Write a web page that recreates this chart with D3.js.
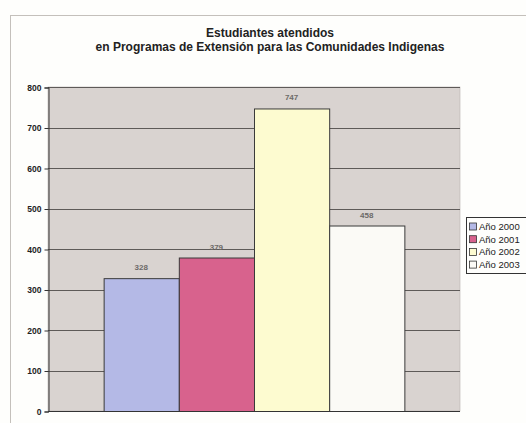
<!DOCTYPE html>
<html><head><meta charset="utf-8">
<script src="https://cdn.jsdelivr.net/npm/d3@7"></script>
<style>body{margin:0;background:#fefefc;}svg{display:block;font-family:Arial,"Liberation Sans",sans-serif;}</style>
</head><body>
<svg id="c" width="526" height="423"></svg>
<script>
const categories = ["Año 2000", "Año 2001", "Año 2002", "Año 2003"];
const values = [328, 379, 747, 458];
const colors = ["#b4b9e6", "#d8628d", "#fdfbd0", "#fbfaf6"];
const yTicks = [0, 100, 200, 300, 400, 500, 600, 700, 800];
const titleLines = ["Estudiantes atendidos", "en Programas de Extensión para las Comunidades Indigenas"];

const svg = d3.select("#c");
// outer chart frame
svg.append("line").attr("x1",10).attr("x2",526).attr("y1",15.5).attr("y2",15.5).attr("stroke","#c4c0bb").attr("stroke-width",1);
svg.append("line").attr("x1",10.5).attr("x2",10.5).attr("y1",15).attr("y2",423).attr("stroke","#c4c0bb").attr("stroke-width",1);

const L=48, R=460, T=87, B=411;
const x = d3.scaleBand().domain(categories).range([L,R]).paddingInner(0).paddingOuter(0.74);
const y = d3.scaleLinear().domain([0,800]).range([B,T]);

svg.append("rect").attr("x",L).attr("y",T).attr("width",R-L).attr("height",B-T).attr("fill","#d9d3d0").attr("stroke","#b8b2ae").attr("stroke-width",0.6);

svg.append("g").selectAll("line").data(yTicks.filter(d=>d>0)).join("line")
  .attr("x1",L).attr("x2",R).attr("y1",d=>Math.round(y(d))+0.5).attr("y2",d=>Math.round(y(d))+0.5)
  .attr("stroke","#5e5a58").attr("stroke-width",1);

const yAxis = d3.axisLeft(y).tickValues(yTicks).tickSize(4).tickPadding(3).tickFormat(d3.format("d"));
const ga = svg.append("g").attr("transform",`translate(${L+0.5},0.5)`).call(yAxis);
ga.select(".domain").attr("stroke","#333");
ga.selectAll(".tick line").attr("stroke","#333");
ga.selectAll("text").attr("font-size",8.5).attr("fill","#222").attr("font-weight","bold");

svg.append("g").selectAll("rect").data(values).join("rect")
  .attr("x",(d,i)=>x(categories[i])+0.5).attr("width",x.bandwidth())
  .attr("y",d=>y(d)+0.5).attr("height",d=>B-y(d))
  .attr("fill",(d,i)=>colors[i]).attr("stroke","#3a3a3a").attr("stroke-width",1);

svg.append("g").selectAll("text").data(values).join("text")
  .attr("x",(d,i)=>x(categories[i])+x.bandwidth()/2).attr("y",d=>y(d)-8)
  .attr("text-anchor","middle").attr("font-size",8).attr("font-weight","bold").attr("fill","#6d6a68")
  .text(d=>d);

svg.append("line").attr("x1",L).attr("x2",R).attr("y1",B+0.5).attr("y2",B+0.5).attr("stroke","#333");

svg.append("g").selectAll("text").data(titleLines).join("text")
  .attr("x",270).attr("y",(d,i)=>37+i*14).attr("text-anchor","middle")
  .attr("font-size",12).attr("font-weight","bold").attr("fill","#222").text(d=>d);

// legend
const lg = svg.append("g").attr("transform","translate(466,217)");
lg.append("rect").attr("x",0.5).attr("y",0.5).attr("width",70).attr("height",56).attr("fill","#fefefc").attr("stroke","#333");
const it = lg.selectAll("g").data(categories).join("g").attr("transform",(d,i)=>`translate(3,${6+i*12.7})`);
it.append("rect").attr("width",7).attr("height",7).attr("x",0.5).attr("y",0).attr("fill",(d,i)=>colors[i]).attr("stroke","#333").attr("stroke-width",0.8);
it.append("text").attr("x",10).attr("y",7).attr("font-size",9.5).attr("fill","#222").text(d=>d);
</script>
</body></html>
